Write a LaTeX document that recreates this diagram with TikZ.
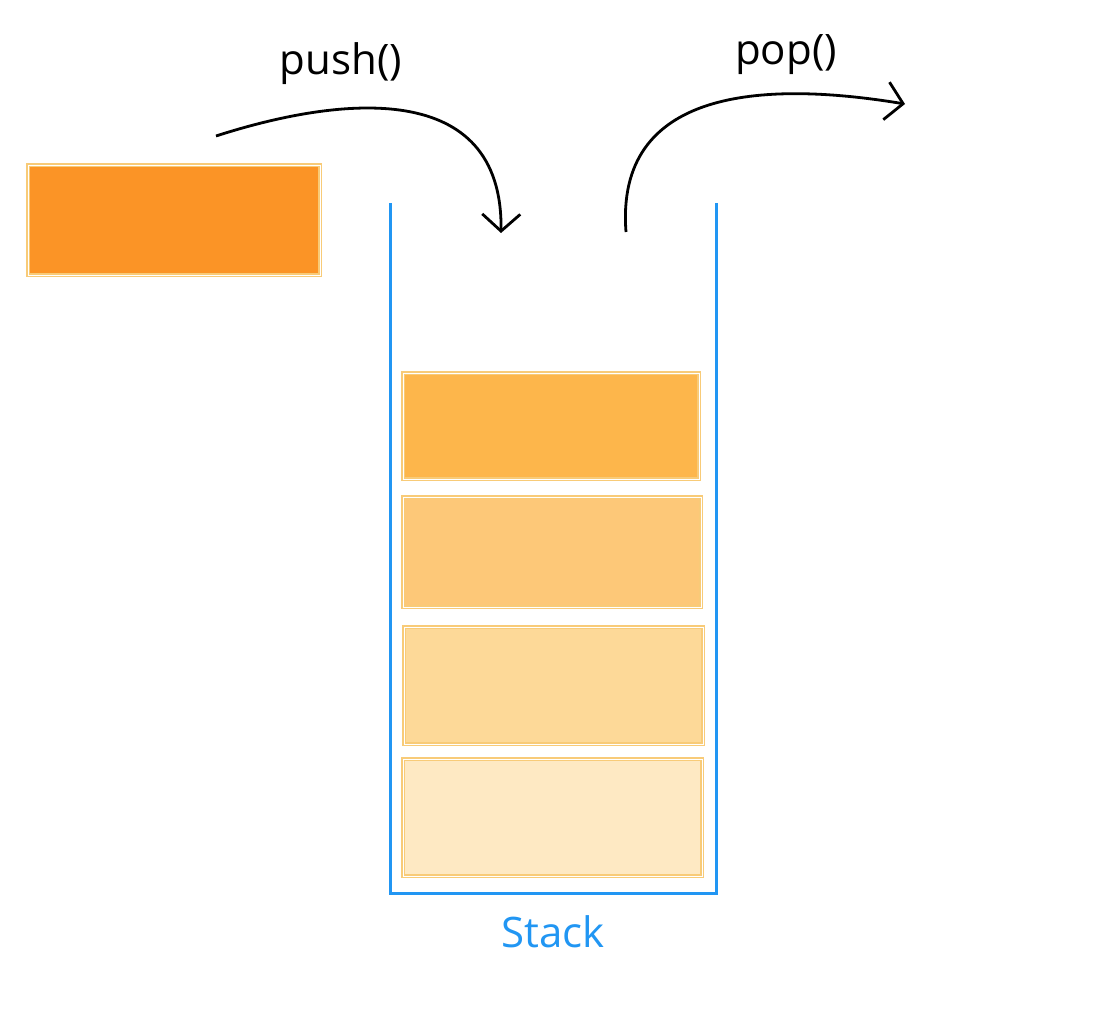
\documentclass[tikz,border=0pt]{standalone}
\usepackage{fontspec}
\setmainfont{Open Sans}
\usepackage{xcolor}
\usetikzlibrary{arrows.meta,positioning}

\begin{document}
\begin{tikzpicture}[x=1pt, y=-1pt, every node/.style={font=\fontsize{42}{50}\selectfont}]
    % Define colors
    \definecolor{stackcol}{HTML}{2196F3}
    \definecolor{newcol}{HTML}{FB9426}
    \definecolor{lvlone}{HTML}{FDB64B}
    \definecolor{lvltwo}{HTML}{FDC878}
    \definecolor{lvlthree}{HTML}{FDD998}
    \definecolor{lvlfour}{HTML}{FEE9C3}
    \definecolor{edgecol}{HTML}{F8CB78}
    \tikzset{
        item/.style={draw=edgecol, double=white, double distance=0.7pt, line width=1.4pt, inner sep=0pt},
        opcurve/.style={line width=2.8pt, -{Straight Barb[length=17pt, width=38pt, line width=2.8pt]}}
    }

    \useasboundingbox (0,0) rectangle (1110,1018);

    % Element waiting outside
    \node[item, fill=newcol, minimum width=292pt, minimum height=110pt] (newitem) at (174,220) {};

    % Stack container
    \draw[stackcol, line width=3pt] (390,203) -- (390,893) -- (716,893) -- (716,203);
    \node[text=stackcol] (stacklabel) at (553,932) {Stack};

    % Elements in the stack
    \node[item, fill=lvlone, minimum width=296pt, minimum height=106pt] (itemone) at (551,426) {};
    \node[item, fill=lvltwo, minimum width=298pt, minimum height=110pt] (itemtwo) at (552,552) {};
    \node[item, fill=lvlthree, minimum width=299pt, minimum height=117pt] (itemthree) at (553.5,685.5) {};
    \node[item, fill=lvlfour, minimum width=299pt, minimum height=117pt] (itemfour) at (552.5,817.5) {};

    % Operations
    \coordinate (pushfrom) at (216,136);
    \coordinate (pushto) at (501,233);
    \coordinate (popfrom) at (626,232);
    \coordinate (popto) at (905,104);
    \draw[opcurve] (pushfrom) .. controls (340,96) and (503,78) .. (pushto);
    \draw[opcurve] (popfrom) .. controls (615,90) and (760,80) .. (popto);
    \node (pushlabel) at (341,64) {push()};
    \node (poplabel) at (786,55) {pop()};
\end{tikzpicture}
\end{document}
